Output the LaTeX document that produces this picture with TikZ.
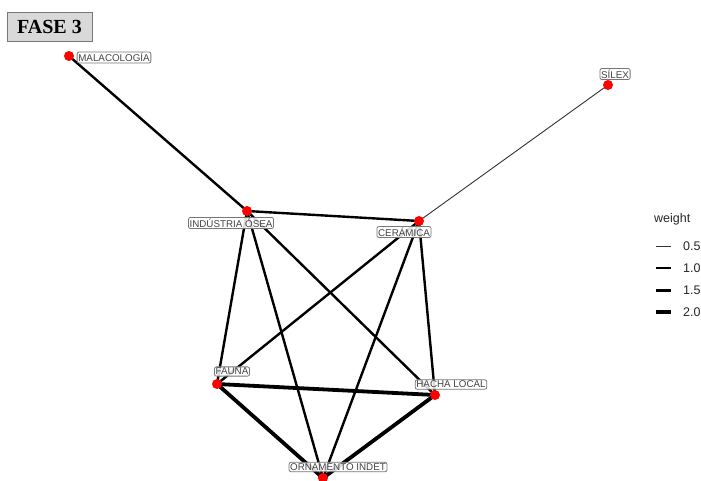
\documentclass[tikz,border=0pt]{standalone}
\usepackage{fontspec}
\setmainfont{Liberation Serif}
\setsansfont{Liberation Sans}
\definecolor{lblgray}{HTML}{444444}
\definecolor{boxgray}{HTML}{777777}
\definecolor{titlefill}{HTML}{D9D9D9}
\begin{document}
\begin{tikzpicture}[x=1pt,y=-1pt,
  dot/.style={circle,fill=red,draw=none,minimum size=10pt,inner sep=0pt},
  lbl/.style={draw=boxgray,rounded corners=2pt,fill=white,fill opacity=0.85,text opacity=1,text=lblgray,font=\sffamily\fontsize{9.8}{10}\selectfont,inner sep=1.2pt,line width=0.8pt},
  wA/.style={line width=0.9pt,black!80},
  wB/.style={line width=2.4pt},
  wD/.style={line width=3.8pt},
  legtxt/.style={font=\sffamily\fontsize{12.5}{13}\selectfont,text=black!85,anchor=west,inner sep=0pt}
]
\useasboundingbox (0,0) rectangle (701,480);
\fill[white] (0,0) rectangle (701,480);
% points
\coordinate (mal) at (69,56);
\coordinate (sil) at (608,85);
\coordinate (io) at (247,211);
\coordinate (cer) at (419,221);
\coordinate (fau) at (217,384);
\coordinate (hac) at (435,395);
\coordinate (orn) at (323,478);
% edges
\draw[wB] (mal) -- (io);
\draw[wA] (sil) -- (cer);
\draw[wB] (io) -- (cer);
\draw[wB] (io) -- (fau);
\draw[wB] (io) -- (orn);
\draw[wB] (io) -- (hac);
\draw[wB] (cer) -- (fau);
\draw[wB] (cer) -- (orn);
\draw[wB] (cer) -- (hac);
\draw[wD] (fau) -- (hac);
\draw[wD] (fau) -- (orn);
\draw[wD] (hac) -- (orn);
% dots
\node[dot] (dmal) at (mal) {};
\node[dot] (dsil) at (sil) {};
\node[dot] (dio) at (io) {};
\node[dot] (dcer) at (cer) {};
\node[dot] (dfau) at (fau) {};
\node[dot] (dhac) at (hac) {};
\node[dot] (dorn) at (orn) {};
% labels
\node[lbl] (lmal) at (114,57.5) {MALACOLOGÍA};
\node[lbl] (lsil) at (615,74) {SÍLEX};
\node[lbl] (lio) at (231,223) {INDÚSTRIA ÓSEA};
\node[lbl] (lcer) at (404,232) {CERÁMICA};
\node[lbl] (lfau) at (232,371.5) {FAUNA};
\node[lbl] (lhac) at (451,384.5) {HACHA LOCAL};
\node[lbl] (lorn) at (338,467) {ORNAMENTO INDET};
% title
\node[draw=boxgray,fill=titlefill,line width=0.8pt,minimum width=85pt,minimum height=29pt,inner sep=0pt,font=\bfseries\fontsize{20}{22}\selectfont] (title) at (49.5,26.5) {FASE 3};
% legend
\node[legtxt] (legt) at (654,219) {weight};
\coordinate (la1) at (656,246); \coordinate (lb1) at (671,246);
\coordinate (la2) at (656,268); \coordinate (lb2) at (671,268);
\coordinate (la3) at (656,290); \coordinate (lb3) at (671,290);
\coordinate (la4) at (656,312); \coordinate (lb4) at (671,312);
\draw[wA] (la1) -- (lb1);
\draw[line width=2pt] (la2) -- (lb2);
\draw[line width=3pt] (la3) -- (lb3);
\draw[line width=3.6pt] (la4) -- (lb4);
\node[legtxt] (l1) at (683,246) {0.5};
\node[legtxt] (l2) at (683,268) {1.0};
\node[legtxt] (l3) at (683,290) {1.5};
\node[legtxt] (l4) at (683,312) {2.0};
\end{tikzpicture}
\end{document}
